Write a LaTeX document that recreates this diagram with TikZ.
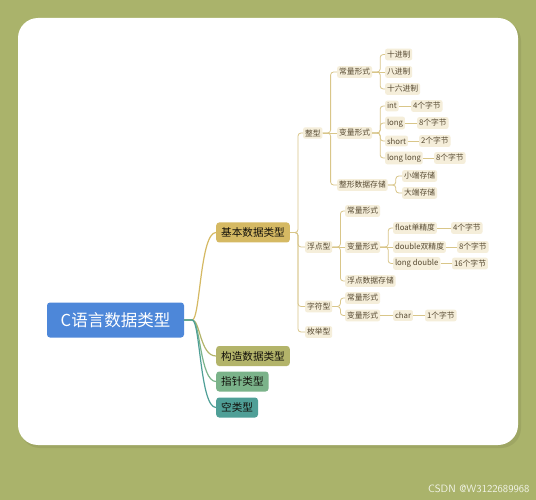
\documentclass[tikz,border=0pt]{standalone}
\usepackage{fontspec}
\newfontfamily\cjk{Noto Sans CJK SC}
\definecolor{pagebg}{HTML}{AAB36B}
\definecolor{rootblue}{HTML}{4D87D9}
\definecolor{basiccol}{HTML}{D5B963}
\definecolor{structcol}{HTML}{B3B46A}
\definecolor{ptrcol}{HTML}{7BB38A}
\definecolor{voidcol}{HTML}{4F9F97}
\definecolor{leafbg}{HTML}{F5EEDA}
\definecolor{leaftext}{HTML}{574A32}
\definecolor{linkcol}{HTML}{D9C689}
\tikzset{
  root/.style={fill=rootblue,text=white,rounded corners=3pt,font=\cjk\fontsize{16.5}{18}\selectfont,
    minimum width=137,minimum height=35,inner sep=0pt},
  branch/.style={rounded corners=3pt,text=black!80!leaftext,font=\cjk\fontsize{10.6}{12}\selectfont,
    minimum height=20,inner xsep=5pt,anchor=west},
  leaf/.style={fill=leafbg,text=leaftext,rounded corners=2pt,font=\cjk\fontsize{7.8}{9}\selectfont,
    inner xsep=1.8pt,inner ysep=2.2pt,anchor=west},
  link/.style={draw=linkcol,line width=0.8pt,rounded corners=3pt},
  rootlink/.style={line width=1.2pt}
}
\begin{document}
\begin{tikzpicture}[x=1pt,y=-1pt]
  \useasboundingbox (0,0) rectangle (536,500);
  \fill[pagebg] (0,0) rectangle (536,500);
  \fill[pagebg!80!black,opacity=.35,rounded corners=20] (20,21) rectangle (521,448);
  \fill[white,rounded corners=20] (18,18) rectangle (518,445);
  \node[text=white!85!pagebg,font=\fontsize{10.6}{12}\selectfont\sffamily,anchor=east] (mark) at (533,489) {CSDN @W3122689968};

  % root and first level
  \node[root] (root) at (115.5,320) {C语言数据类型};
  \node[branch,fill=basiccol] (basic) at (216,232.5) {基本数据类型};
  \node[branch,fill=structcol] (struct) at (216,356) {构造数据类型};
  \node[branch,fill=ptrcol] (ptr) at (216,381.5) {指针类型};
  \node[branch,fill=voidcol] (void) at (216,407.5) {空类型};
  \coordinate (fork) at ([xshift=8]root.east);
  \draw[rootlink,basiccol] (root.east) -- (fork) .. controls +(8,0) and +(-16,0) .. (basic.west);
  \draw[rootlink,structcol] (root.east) -- (fork) .. controls +(8,0) and +(-16,0) .. (struct.west);
  \draw[rootlink,ptrcol] (root.east) -- (fork) .. controls +(8,0) and +(-16,0) .. (ptr.west);
  \draw[rootlink,voidcol] (root.east) -- (fork) .. controls +(8,0) and +(-16,0) .. (void.west);

  % second level
  \node[leaf] (intT) at (303,133) {整型};
  \node[leaf] (floatT) at (305,247) {浮点型};
  \node[leaf] (charT) at (305,306.5) {字符型};
  \node[leaf] (enumT) at (305,332) {枚举型};

  % integer
  \node[leaf] (intConst) at (337,72) {常量形式};
  \node[leaf] (intVar) at (337,133) {变量形式};
  \node[leaf] (intStore) at (337,185) {整形数据存储};
  \node[leaf] (dec) at (385,54.5) {十进制};
  \node[leaf] (oct) at (385,72) {八进制};
  \node[leaf] (hex) at (385,89) {十六进制};
  \node[leaf] (vInt) at (385,106) {int};
  \node[leaf] (vLong) at (385,123) {long};
  \node[leaf] (vShort) at (385,141) {short};
  \node[leaf] (vLL) at (385,158) {long long};
  \node[leaf] (bInt) at (411,106) {4个字节};
  \node[leaf] (bLong) at (417,123) {8个字节};
  \node[leaf] (bShort) at (419,141) {2个字节};
  \node[leaf] (bLL) at (434,158) {8个字节};
  \node[leaf] (little) at (402,176) {小端存储};
  \node[leaf] (big) at (402,193) {大端存储};

  % floating point
  \node[leaf] (fConst) at (345,211) {常量形式};
  \node[leaf] (fVar) at (345,247) {变量形式};
  \node[leaf] (fStore) at (345,281) {浮点数据存储};
  \node[leaf] (vFloat) at (393,228) {float单精度};
  \node[leaf] (vDouble) at (393,247) {double双精度};
  \node[leaf] (vLD) at (393,263.5) {long double};
  \node[leaf] (bFloat) at (451,228) {4个字节};
  \node[leaf] (bDouble) at (457,247) {8个字节};
  \node[leaf] (bLD) at (452,263.5) {16个字节};

  % character
  \node[leaf] (cConst) at (345,298) {常量形式};
  \node[leaf] (cVar) at (345,315.5) {变量形式};
  \node[leaf] (vChar) at (393,315.5) {char};
  \node[leaf] (bChar) at (425,315.5) {1个字节};

  % brackets
  \foreach \p/\c in {basic/intT,basic/floatT,basic/charT,basic/enumT,
      intT/intConst,intT/intStore,intConst/dec,intConst/hex,
      intVar/vInt,intVar/vLong,intVar/vShort,intVar/vLL,intStore/little,intStore/big,
      floatT/fConst,floatT/fStore,fVar/vFloat,fVar/vLD,charT/cConst,charT/cVar}
    \draw[link] (\p.east) -- ++(8,0) |- (\c.west);
  \foreach \a/\b in {intT/intVar,intConst/oct,floatT/fVar,fVar/vDouble,
      vInt/bInt,vLong/bLong,vShort/bShort,vLL/bLL,vFloat/bFloat,vDouble/bDouble,vLD/bLD,
      cVar/vChar,vChar/bChar}
    \draw[link] (\a.east) -- (\b.west);
\end{tikzpicture}
\end{document}
